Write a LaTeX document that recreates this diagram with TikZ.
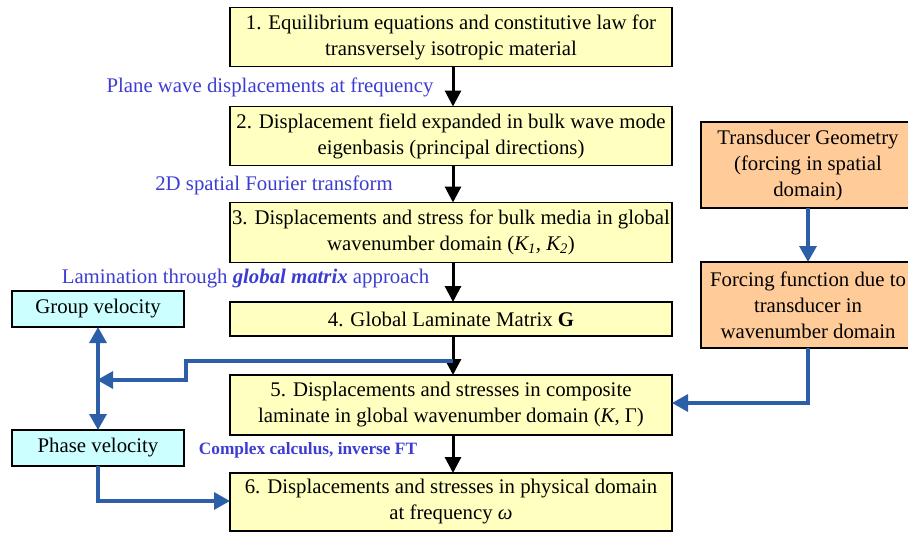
\documentclass[tikz,border=0pt]{standalone}
\usepackage{fontspec}
\setmainfont{Liberation Serif}
\usetikzlibrary{arrows.meta}
\definecolor{boxyellow}{RGB}{255,255,192}
\definecolor{boxcyan}{RGB}{204,255,255}
\definecolor{boxorange}{RGB}{255,204,153}
\definecolor{arrblue}{RGB}{44,95,168}
\definecolor{labblue}{RGB}{60,60,210}
\begin{document}
\begin{tikzpicture}[x=1pt,y=-1pt,
  every node/.style={inner sep=0pt,outer sep=0pt},
  bfont/.style={font=\fontsize{20.8}{26}\selectfont},
  ybox/.style={draw=black,line width=1.3pt,fill=boxyellow,align=center,bfont},
  cbox/.style={draw=black,line width=1.3pt,fill=boxcyan,align=center,bfont},
  obox/.style={draw=black,line width=1.3pt,fill=boxorange,align=center,bfont},
  blk/.style={line width=3pt,-{Triangle[length=16pt,width=16pt]}},
  blu/.style={draw=arrblue,line width=3.2pt,-{Triangle[length=16pt,width=17pt]}},
  blu2/.style={draw=arrblue,line width=3.2pt,{Triangle[length=16pt,width=17pt]}-{Triangle[length=16pt,width=17pt]}},
  lab/.style={text=labblue,font=\fontsize{20.8}{24}\selectfont}
]
\useasboundingbox (0,0) rectangle (908,533);
% yellow boxes
\node[ybox,minimum width=442pt,minimum height=59pt] (b1) at (451,37) {1. Equilibrium equations and constitutive law for\\transversely isotropic material};
\node[ybox,minimum width=442pt,minimum height=59pt] (b2) at (451,136) {2. Displacement field expanded in bulk wave mode\\eigenbasis (principal directions)};
\node[ybox,minimum width=442pt,minimum height=60pt] (b3) at (451,232.5) {3. Displacements and stress for bulk media in global\\wavenumber domain (\textit{K\textsubscript{1}, K\textsubscript{2}})};
\node[ybox,minimum width=442pt,minimum height=34pt] (b4) at (451,319) {4. Global Laminate Matrix \textbf{G}};
\node[ybox,minimum width=442pt,minimum height=60pt] (b5) at (451,405) {5. Displacements and stresses in composite\\laminate in global wavenumber domain (\textit{K}, Γ)};
\node[ybox,minimum width=442pt,minimum height=58pt] (b6) at (451,502) {6. Displacements and stresses in physical domain\\at frequency \textit{ω}};
% cyan boxes
\node[cbox,minimum width=172pt,minimum height=36pt] (gv) at (98,309) {Group velocity};
\node[cbox,minimum width=172pt,minimum height=36pt] (pv) at (98,448) {Phase velocity};
% orange boxes
\node[obox,minimum width=214pt,minimum height=86pt] (tg) at (808,165) {Transducer Geometry\\(forcing in spatial\\domain)};
\node[obox,minimum width=214pt,minimum height=86pt] (ff) at (808,305) {Forcing function due to\\transducer in\\wavenumber domain};
% labels
\node[lab] (l1) at (270,87) {Plane wave displacements at frequency};
\node[lab] (l2) at (274,185) {2D spatial Fourier transform};
\node[lab] (l3) at (245.5,279) {Lamination through \textbf{\textit{global matrix}} approach};
\node[lab,font=\fontsize{17.3}{20}\selectfont\bfseries] (l4) at (308,450) {Complex calculus, inverse FT};
% black arrows
\draw[blk] (b1.south -| 453,0) -- (b2.north -| 453,0);
\draw[blk] (b2.south -| 453,0) -- (b3.north -| 453,0);
\draw[blk] (b3.south -| 453,0) -- (b4.north -| 453,0);
\draw[blk] (b4.south -| 453,0) -- (b5.north -| 453,0);
\draw[blk] (b5.south -| 453,0) -- (b6.north -| 453,0);
% blue connectors
\coordinate (tap) at (453,361);
\coordinate (junc) at (97,380);
\draw[blu2] (gv.south) -- (pv.north);
\draw[blu] (tap) -- (186,361) -- (186,380) -- (junc);
\draw[blu] (tg.south) -- (ff.north);
\draw[blu] (ff.south) |- (b5.east |- 0,403);
\draw[blu] (pv.south) |- (b6.west |- 0,501);
\end{tikzpicture}
\end{document}
